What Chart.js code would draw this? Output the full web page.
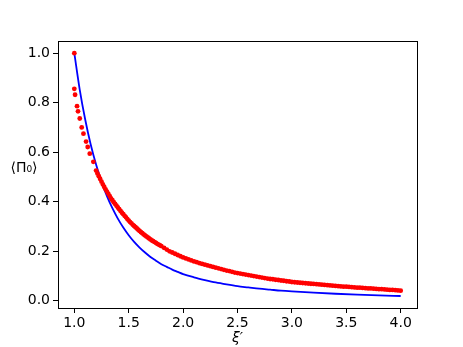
<!DOCTYPE html>
<html>
<head>
<meta charset="utf-8">
<script src="https://cdn.jsdelivr.net/npm/chart.js@4.4.0/dist/chart.umd.min.js"></script>
<style>
html,body{margin:0;padding:0;background:#fff;}
#wrap{width:463px;height:347px;}
</style>
</head>
<body>
<div id="wrap"><canvas id="c" width="463" height="347"></canvas></div>
<script>
const xTicks = [1.0, 1.5, 2.0, 2.5, 3.0, 3.5, 4.0];
const yTicks = [0.0, 0.2, 0.4, 0.6, 0.8, 1.0];

const blueX = [1.00,1.05,1.10,1.15,1.20,1.25,1.30,1.35,1.40,1.45,1.50,1.55,1.60,1.65,1.70,1.75,1.80,1.85,1.90,1.95,2.00,
  2.1,2.2,2.3,2.4,2.5,2.6,2.7,2.8,2.9,3.0,3.2,3.4,3.6,3.8,4.0];
const blueY = [1.000,0.852,0.732,0.632,0.550,0.481,0.423,0.374,0.332,0.296,0.265,0.238,0.215,0.195,0.177,0.162,0.148,0.137,0.126,0.117,0.108,
  0.095,0.084,0.074,0.066,0.059,0.054,0.049,0.045,0.041,0.038,0.033,0.0285,0.025,0.022,0.0195];

const redX = [1.000,1.000,1.007,1.025,1.034,1.050,1.068,1.084,1.108,1.123,1.142,1.175,
  1.2000,1.2125,1.2250,1.2375,1.2500,1.2625,1.2750,1.2875,1.3000,1.3125,1.3250,1.3375,1.3500,1.3625,1.3750,1.3875,
  1.4000,1.4125,1.4250,1.4375,1.4500,1.4625,1.4750,1.4875,1.5000,1.5125,1.5250,1.5375,1.5500,1.5625,1.5750,1.5875,
  1.6000,1.6125,1.6250,1.6375,1.6500,1.6625,1.6750,1.6875,1.7000,1.7125,1.7250,1.7375,1.7500,1.7625,1.7750,1.7875,
  1.800,1.825,1.850,1.875,1.900,1.925,1.950,1.975,2.000,2.025,2.050,2.075,2.100,2.125,2.150,2.175,
  2.200,2.225,2.250,2.275,2.300,2.325,2.350,2.375,2.400,2.425,2.450,2.475,2.500,2.525,2.550,2.575,2.600,2.625,2.650,2.675,
  2.700,2.725,2.750,2.775,2.800,2.825,2.850,2.875,2.900,2.925,2.950,2.975,3.000,3.025,3.050,3.075,3.100,3.125,3.150,3.175,
  3.200,3.225,3.250,3.275,3.300,3.325,3.350,3.375,3.400,3.425,3.450,3.475,3.500,3.525,3.550,3.575,3.600,3.625,3.650,3.675,
  3.700,3.725,3.750,3.775,3.800,3.825,3.850,3.875,3.900,3.925,3.950,3.975,4.000];
const redY = [1.000,0.856,0.832,0.786,0.765,0.736,0.700,0.675,0.643,0.621,0.594,0.561,
  0.526,0.514,0.503,0.492,0.481,0.470,0.460,0.450,0.441,0.432,0.423,0.414,0.406,0.398,0.391,0.384,
  0.377,0.370,0.363,0.356,0.350,0.343,0.337,0.330,0.324,0.318,0.313,0.307,0.302,0.297,0.292,0.287,
  0.282,0.277,0.273,0.268,0.264,0.260,0.256,0.252,0.248,0.244,0.241,0.237,0.234,0.230,0.227,0.224,
  0.221,0.214,0.207,0.200,0.195,0.190,0.185,0.180,0.175,0.171,0.167,0.163,0.159,0.156,0.152,0.149,
  0.146,0.143,0.140,0.137,0.134,0.131,0.128,0.125,0.122,0.120,0.117,0.114,0.112,0.110,0.108,0.106,0.104,0.102,0.100,0.098,
  0.096,0.094,0.092,0.090,0.088,0.087,0.085,0.084,0.082,0.081,0.079,0.078,0.076,0.075,0.074,0.073,0.072,0.071,0.070,0.069,
  0.068,0.067,0.066,0.065,0.064,0.063,0.062,0.061,0.060,0.059,0.058,0.057,0.057,0.056,0.055,0.054,0.053,0.053,0.052,0.051,
  0.050,0.050,0.049,0.048,0.047,0.047,0.046,0.045,0.044,0.044,0.043,0.042,0.041];

const xLabel = "ξ′";
const yLabel = "⟨Π₀⟩";

const bluePts = blueX.map((x, i) => ({x: x, y: blueY[i]}));
const redPts = redX.map((x, i) => ({x: x, y: redY[i]}));

Chart.defaults.font.family = "'DejaVu Sans', sans-serif";
Chart.defaults.font.size = 14;
Chart.defaults.color = '#000';

const framePlugin = {
  id: 'frame',
  afterDraw(chart) {
    const {ctx, chartArea: a} = chart;
    ctx.save();
    ctx.strokeStyle = '#000';
    ctx.lineWidth = 1;
    ctx.strokeRect(Math.round(a.left) + 0.5, Math.round(a.top) + 0.5,
      Math.round(a.right - a.left), Math.round(a.bottom - a.top));
    ctx.fillStyle = '#000';
    ctx.textAlign = 'center';
    ctx.textBaseline = 'alphabetic';
    ctx.font = "italic 14px 'DejaVu Sans', sans-serif";
    ctx.fillText(xLabel, (a.left + a.right) / 2, 342);
    ctx.font = "14px 'DejaVu Sans', sans-serif";
    ctx.fillText(yLabel, 24, 172);
    ctx.restore();
  }
};

new Chart(document.getElementById('c'), {
  type: 'scatter',
  data: {
    datasets: [
      {
        data: bluePts,
        showLine: true,
        borderColor: '#0000ff',
        borderWidth: 1.8,
        pointRadius: 0,
        cubicInterpolationMode: 'monotone',
        order: 2
      },
      {
        data: redPts,
        showLine: false,
        backgroundColor: '#ff0000',
        borderColor: '#ff0000',
        borderWidth: 0,
        pointRadius: 2.4,
        order: 1
      }
    ]
  },
  options: {
    responsive: false,
    animation: false,
    events: [],
    layout: {padding: {left: 0, right: 46, top: 41, bottom: 0}},
    plugins: {legend: {display: false}, tooltip: {enabled: false}},
    scales: {
      x: {
        type: 'linear',
        min: 0.85, max: 4.15,
        afterBuildTicks: s => { s.ticks = xTicks.map(v => ({value: v})); },
        afterFit: s => { s.height = 39; },
        ticks: {callback: v => v.toFixed(1), padding: 2, maxRotation: 0, autoSkip: false},
        grid: {drawOnChartArea: false, drawTicks: true, tickLength: 5, color: '#000', lineWidth: 1},
        border: {display: false}
      },
      y: {
        type: 'linear',
        min: -0.029, max: 1.049,
        afterBuildTicks: s => { s.ticks = yTicks.map(v => ({value: v})); },
        afterFit: s => { s.width = 58; },
        ticks: {callback: v => v.toFixed(1), padding: 3, autoSkip: false},
        grid: {drawOnChartArea: false, drawTicks: true, tickLength: 5, color: '#000', lineWidth: 1},
        border: {display: false}
      }
    }
  },
  plugins: [framePlugin]
});
</script>
</body>
</html>
